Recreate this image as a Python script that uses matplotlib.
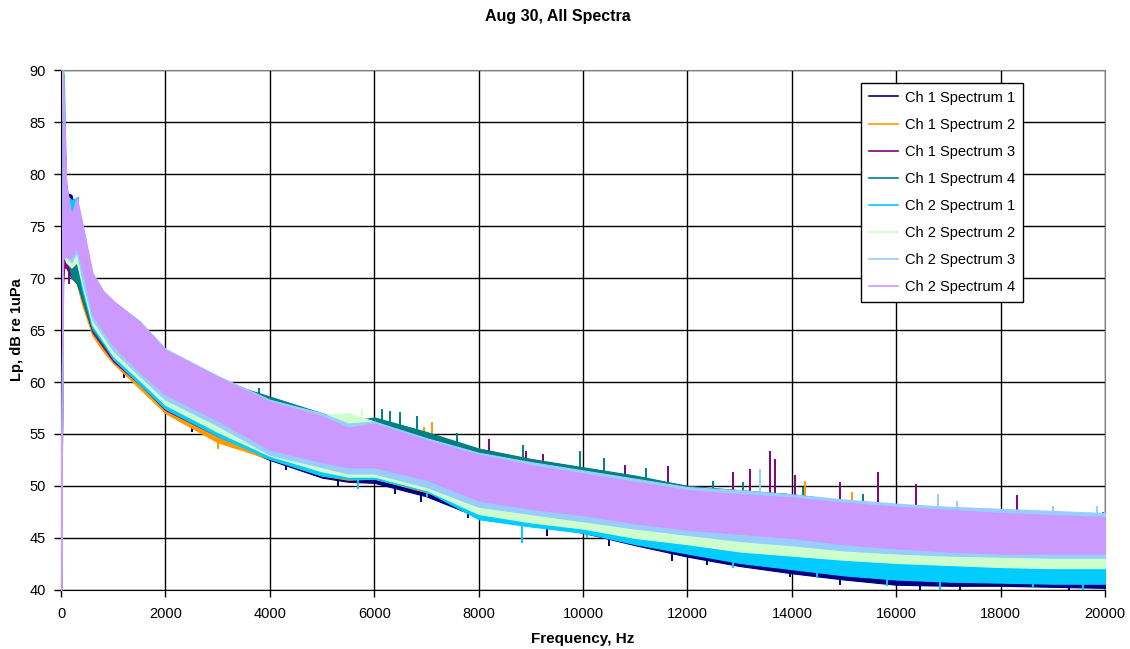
import numpy as np
import matplotlib
matplotlib.use("Agg")
import matplotlib.pyplot as plt

plt.rcParams['font.family'] = ['Liberation Sans', 'DejaVu Sans']

freq = [0, 40, 60, 100, 200, 300, 400, 600, 800, 1000, 1500, 2000, 3000, 4000, 5000, 5500,
        6000, 7000, 8000, 9000, 10000, 11000, 12000, 13000, 14000, 15000, 16000, 17000,
        18000, 19000, 20000]

names = ['Ch 1 Spectrum 1', 'Ch 1 Spectrum 2', 'Ch 1 Spectrum 3', 'Ch 1 Spectrum 4',
         'Ch 2 Spectrum 1', 'Ch 2 Spectrum 2', 'Ch 2 Spectrum 3', 'Ch 2 Spectrum 4']
colors = ['#000080', '#FF9900', '#800080', '#008080',
          '#00CCFF', '#CCFFCC', '#99CCFF', '#CC99FF']

# upper / lower edge of each noisy spectrum (dB re 1uPa)
ch1_s1_hi = [40, 88, 85, 78.2, 78, 76, 74, 70, 68.2, 67.2, 65.2, 62.5, 59.8, 58.2, 56.6, 56.0, 56.2, 54.8, 53.4, 52.4, 51.5, 50.6, 49.8, 49.2, 48.8, 48.1, 47.4, 47.0, 46.6, 46.4, 46.2]
ch1_s1_lo = [40, 73, 73, 73, 71.5, 70, 68, 64.8, 63.2, 62, 59.7, 57.3, 54.6, 52.5, 50.8, 50.4, 50.3, 49.0, 47.0, 46.3, 45.5, 44.3, 43.2, 42.3, 41.6, 41.0, 40.5, 40.4, 40.4, 40.3, 40.2]
ch1_s2_hi = [40, 84, 82, 76, 75, 74, 73, 69.5, 67.8, 66.8, 64.8, 62.2, 59.6, 58.0, 56.4, 56.0, 56.2, 55.0, 53.6, 52.6, 51.7, 50.8, 50.0, 49.4, 49.0, 48.3, 47.6, 47.2, 46.8, 46.6, 46.4]
ch1_s2_lo = [40, 71, 71, 71, 70, 69.5, 67.5, 64.5, 63, 61.8, 59.4, 57.0, 54.2, 52.6, 51.0, 50.6, 50.7, 49.4, 47.5, 46.7, 46.0, 45.0, 44.2, 43.5, 42.9, 42.3, 41.8, 41.5, 41.2, 41.0, 40.9]
ch1_s3_hi = [40, 84, 82, 76, 75, 74, 73.5, 69.8, 68, 67, 65, 62.4, 59.8, 58.2, 56.6, 56.0, 56.3, 54.8, 53.4, 52.4, 51.6, 50.8, 50.0, 49.5, 49.2, 48.5, 47.8, 47.4, 47.0, 46.8, 46.6]
ch1_s3_lo = [40, 69.5, 71, 71, 70, 70, 68, 64.8, 63.4, 62, 59.8, 57.3, 54.8, 52.8, 51.5, 51.2, 51.2, 49.8, 48.0, 47.2, 46.5, 45.5, 44.8, 44.2, 43.6, 43.0, 42.6, 42.3, 42.0, 41.8, 41.6]
ch1_s4_hi = [40, 86, 84, 79, 76, 75, 74, 70, 68.2, 67.2, 65.2, 62.6, 60.2, 58.6, 57.0, 56.2, 56.6, 55.2, 53.6, 52.6, 51.8, 51.0, 50.0, 49.6, 49.2, 48.6, 47.8, 47.4, 47.0, 46.8, 46.6]
ch1_s4_lo = [40, 74, 73.5, 72.5, 70, 69.5, 68, 65, 63.6, 62.3, 60.0, 57.6, 55.0, 53.0, 51.8, 51.5, 51.6, 50.3, 48.5, 47.7, 47.0, 46.2, 45.5, 44.9, 44.4, 43.9, 43.4, 43.1, 42.9, 42.7, 42.6]
ch2_s1_hi = [40, 90, 88, 78, 77.5, 77.7, 74.5, 70, 68.5, 67.5, 65.3, 62.6, 59.8, 57.5, 56, 55.5, 55.4, 53.5, 51.5, 50.5, 49.6, 48.6, 47.8, 47.2, 46.8, 46.3, 45.8, 45.4, 45.2, 45.0, 45.0]
ch2_s1_lo = [40, 74, 73, 72.5, 71.5, 72, 69, 65.2, 63.8, 62.2, 59.8, 57.4, 54.8, 52.6, 51.0, 50.7, 50.7, 49.5, 46.8, 46.1, 45.5, 44.4, 43.5, 42.6, 42.0, 41.4, 41.0, 40.8, 40.7, 40.6, 40.6]
ch2_s2_hi = [40, 85, 83, 78, 76, 77, 74.5, 70, 68.5, 67.5, 65.5, 63, 60.3, 57.8, 56.8, 57.0, 56.2, 54.2, 52.5, 51.5, 50.6, 49.8, 49.0, 48.6, 48.2, 47.8, 47.4, 47.2, 47.0, 46.8, 46.6]
ch2_s2_lo = [40, 73, 72, 71.5, 71, 71.5, 69.5, 65.5, 64, 62.5, 60.2, 57.8, 55.2, 52.9, 51.4, 50.9, 50.9, 49.6, 47.3, 46.5, 45.9, 45.0, 44.4, 43.7, 43.3, 42.9, 42.6, 42.4, 42.2, 42.1, 42.1]
ch2_s3_hi = [40, 88, 84, 78, 76, 77.6, 75, 70.5, 68.8, 67.8, 65.9, 63.2, 60.6, 58.3, 57.0, 56.0, 56.2, 54.6, 53.2, 52.3, 51.5, 50.7, 49.9, 49.6, 49.2, 48.7, 48.3, 48.0, 47.8, 47.6, 47.4]
ch2_s3_lo = [40, 73, 72, 72, 71.5, 72.5, 70, 66, 64.5, 63, 60.6, 58.3, 55.8, 53, 51.8, 51.2, 51.2, 49.9, 48.0, 47.3, 46.6, 45.9, 45.3, 44.7, 44.3, 43.8, 43.5, 43.3, 43.2, 43.1, 43.1]
ch2_s4_hi = [38, 90.5, 86, 79, 76, 77.8, 75.5, 70.5, 68.8, 67.8, 65.8, 63.1, 60.5, 58.1, 56.7, 55.6, 56.0, 54.4, 53.0, 52.0, 51.2, 50.4, 49.6, 49.2, 48.9, 48.4, 48.0, 47.7, 47.4, 47.2, 47.0]
ch2_s4_lo = [38, 72, 72, 72, 72, 73, 71, 66.5, 65, 63.5, 61, 58.8, 56.3, 53.5, 52.3, 51.8, 51.8, 50.6, 48.6, 47.8, 47.2, 46.4, 45.8, 45.4, 45.0, 44.4, 44.0, 43.7, 43.5, 43.5, 43.5]

# isolated peaks / dips sticking out of the bands: (freq, from dB, to dB)
ch1_s1_peaks = [(1200, 61.5, 60.5), (2500, 56.5, 55.3), (4300, 52.5, 51.6), (5300, 51, 50.0),
                (6400, 50.5, 49.3), (6900, 49.6, 48.6), (7800, 48, 47.0), (9300, 46.6, 45.3),
                (10500, 45.5, 44.3), (11700, 44, 42.9), (12370, 43.4, 42.5), (13970, 42.2, 41.3),
                (14920, 41.6, 40.6), (16460, 41, 40.0), (17220, 41, 40.0), (19300, 40.8, 40.0)]
ch1_s2_peaks = [(7100, 54, 56.1), (6950, 54, 55.6), (3000, 55, 53.7), (1700, 60.2, 59.3),
                (14250, 49, 50.4), (15150, 48.2, 49.3), (19000, 46.3, 46.8)]
ch1_s3_peaks = [(8200, 52, 54.4), (8910, 51.5, 53.3), (9230, 51.5, 53.0), (10800, 50, 51.9),
                (11630, 49.5, 51.8), (12870, 49, 51.2), (13200, 49, 51.5), (13580, 49, 53.3),
                (13680, 49, 52.5), (14060, 48.5, 51.0), (14920, 48, 50.3), (15650, 48, 51.2),
                (16380, 47.5, 50.1), (18310, 47, 49.0), (150, 72, 69.5)]
ch1_s4_peaks = [(6150, 55.5, 57.3), (6300, 55.5, 57.1), (6500, 55.5, 57.0), (6820, 55, 56.6),
                (7590, 54, 55.0), (8850, 52.5, 53.8), (9940, 51.5, 53.3), (10400, 51, 52.6),
                (11200, 50.5, 51.6), (12490, 49.5, 50.4), (13070, 49, 50.3), (14220, 48.8, 49.8),
                (15360, 48.2, 49.1), (17550, 46.8, 47.3), (19960, 46.5, 47.4), (3800, 58.5, 59.3)]
ch2_s1_peaks = [(320, 74, 77.7), (60, 80, 89.5), (5690, 51, 49.8), (7010, 49.8, 49.0),
                (8830, 47, 44.6), (10080, 45.8, 45.1), (12870, 43, 42.2), (14480, 41.9, 41.2),
                (15820, 41.4, 40.5), (16840, 41.1, 40.1), (18620, 41, 40.3), (19580, 40.9, 40.1)]
ch2_s2_peaks = [(5770, 55, 57.3), (2600, 60, 60.8)]
ch2_s3_peaks = [(13390, 49.5, 51.5), (16800, 48, 49.1), (17160, 47.8, 48.5), (19000, 47.3, 48.0),
                (19850, 47.2, 48.0)]

fig = plt.figure(figsize=(11.3, 6.49), dpi=100)
ax = fig.add_axes([0.054, 0.091, 0.924, 0.801])
ax.set_axisbelow(True)

bands = [(ch1_s1_lo, ch1_s1_hi), (ch1_s2_lo, ch1_s2_hi), (ch1_s3_lo, ch1_s3_hi),
         (ch1_s4_lo, ch1_s4_hi), (ch2_s1_lo, ch2_s1_hi), (ch2_s2_lo, ch2_s2_hi),
         (ch2_s3_lo, ch2_s3_hi), (ch2_s4_lo, ch2_s4_hi)]
peaks = [ch1_s1_peaks, ch1_s2_peaks, ch1_s3_peaks, ch1_s4_peaks,
         ch2_s1_peaks, ch2_s2_peaks, ch2_s3_peaks, []]

for (lo, hi), pk, c, name in zip(bands, peaks, colors, names):
    ax.fill_between(freq, lo, hi, color=c, lw=0.8, edgecolor=c, zorder=3)
    for f, a, b in pk:
        ax.plot([f, f], [a, b], color=c, lw=1.4, zorder=3)
    ax.plot([], [], color=c, lw=1.2, label=name)

ax.set_xlim(0, 20000)
ax.set_ylim(40, 90)
ax.set_xticks(np.arange(0, 20001, 2000))
ax.set_yticks(np.arange(40, 91, 5))
ax.grid(True, color='black', lw=1.0)
ax.tick_params(direction='out', length=5, width=1, colors='black', labelsize=10.5)
ax.tick_params(axis='y', pad=6)
ax.tick_params(axis='x', pad=7)
for s in ['top', 'right']:
    ax.spines[s].set_color('#808080')
for s in ['left', 'bottom']:
    ax.spines[s].set_color('black')

ax.set_xlabel('Frequency, Hz', fontsize=11, fontweight='bold', labelpad=8)
ax.set_ylabel('Lp, dB re 1uPa', fontsize=10.5, fontweight='bold', labelpad=4)
fig.text(0.494, 0.975, 'Aug 30, All Spectra', fontsize=11.5, fontweight='bold',
         ha='center', va='center')

leg = ax.legend(loc='upper left', bbox_to_anchor=(0.766, 0.976), fontsize=10.5,
                frameon=True, fancybox=False, edgecolor='black', framealpha=1,
                handlelength=2.0, handletextpad=0.5, labelspacing=0.9, borderpad=0.55,
                borderaxespad=0)
leg.get_frame().set_linewidth(1.0)
leg.set_zorder(5)

fig.savefig('out.png', dpi=100)
